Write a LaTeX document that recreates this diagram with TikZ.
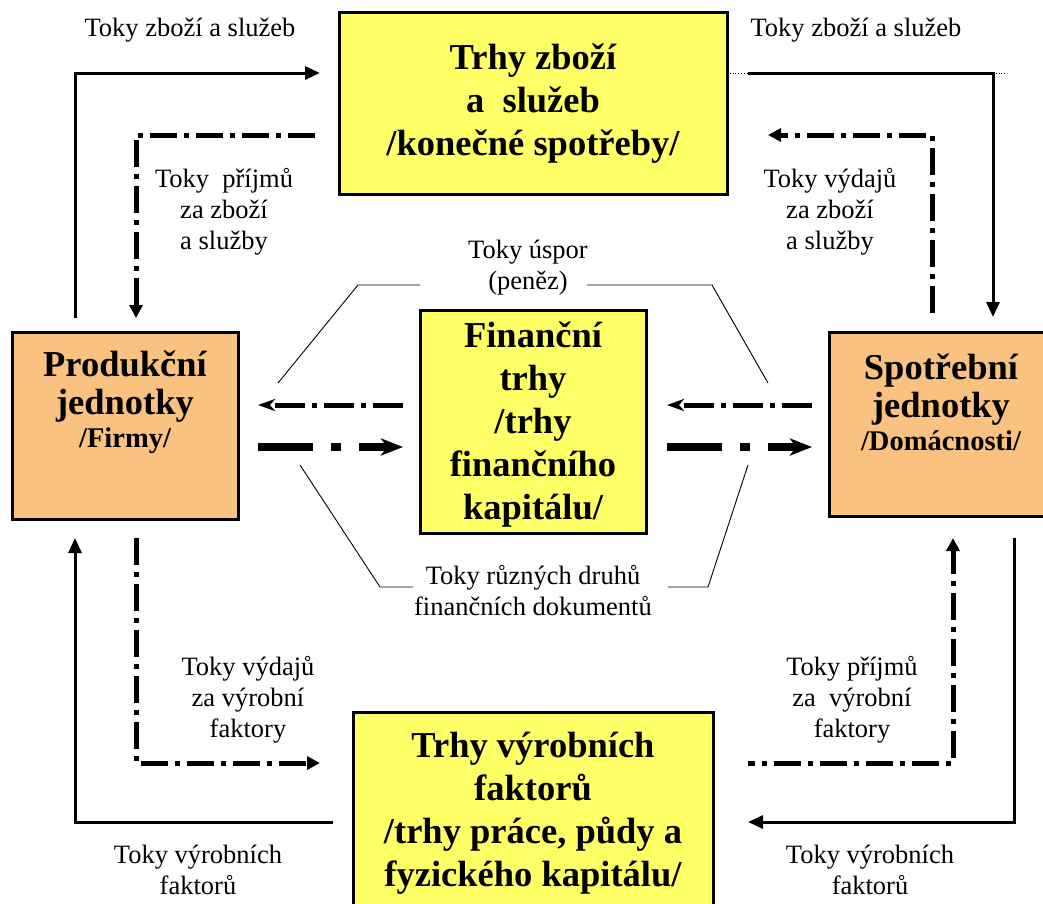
\documentclass[tikz,border=0pt]{standalone}
\usepackage{fontspec}
\setmainfont{Liberation Serif}
\usetikzlibrary{arrows.meta}
\definecolor{boxyellow}{RGB}{255,255,102}
\definecolor{boxorange}{RGB}{250,194,128}
\begin{document}
\begin{tikzpicture}[x=1pt,y=-1pt,
  mkt/.style={draw=black, line width=3pt, fill=boxyellow, inner sep=0pt},
  unitbox/.style={draw=black, line width=3pt, fill=boxorange, inner sep=0pt},
  boxtext/.style={align=center, font=\bfseries\fontsize{36.5}{43}\selectfont, inner sep=0pt},
  lbl/.style={align=center, font=\fontsize{26.5}{31}\selectfont, inner sep=0pt},
  solidflow/.style={line width=3pt, -{Triangle[length=15pt,width=13pt]}},
  ddflow/.style={line width=5pt, dash pattern=on 27pt off 7pt on 5pt off 7pt, -{Triangle[length=13pt,width=13pt]}},
  midthin/.style={line width=5pt, dash pattern=on 30pt off 7pt on 5pt off 7pt, -{Stealth[length=17pt,width=12pt,inset=5pt]}},
  midthick/.style={line width=8pt, dash pattern=on 55pt off 18pt on 10pt off 18pt, -{Stealth[length=22pt,width=17pt,inset=6pt]}},
  thinline/.style={line width=0.9pt},
  dotline/.style={line width=0.8pt, dotted}
]
\useasboundingbox (0,0) rectangle (1043,903);
\clip (0,0) rectangle (1043,903);
\fill[white] (0,0) rectangle (1043,903);

% boxes
\node[mkt, minimum width=388pt, minimum height=182pt] (top) at (533,103) {};
\node[unitbox, minimum width=226pt, minimum height=187pt] (prod) at (125,425.5) {};
\node[unitbox, minimum width=221pt, minimum height=184pt] (spot) at (939.5,424) {};
\node[mkt, minimum width=226pt, minimum height=223pt] (fin) at (533,421.5) {};
\node[mkt, minimum width=360pt, minimum height=208pt] (bot) at (533,816) {};

% box texts
\node[boxtext] (toptext) at (533,104) {Trhy zboží\\a~~služeb\\/konečné spotřeby/};
\node[boxtext, font=\bfseries\fontsize{36.5}{38}\selectfont] (prodtext) at (125,402)
  {Produkční\\jednotky\\[-5pt]{\fontsize{28.5}{30}\selectfont /Firmy/}};
\node[boxtext, font=\bfseries\fontsize{36.5}{38}\selectfont] (spottext) at (941,402)
  {Spotřební\\jednotky\\[-5pt]{\fontsize{28.5}{30}\selectfont /Domácnosti/}};
\node[boxtext] (fintext) at (533,425) {Finanční\\trhy\\/trhy\\finančního\\kapitálu/};
\node[boxtext] (bottext) at (533,813) {Trhy výrobních\\faktorů\\/trhy práce, půdy a\\fyzického kapitálu/};

% labels
\node[lbl] (l1) at (190,30) {Toky zboží a služeb};
\node[lbl] (l2) at (856,30) {Toky zboží a služeb};
\node[lbl] (l3) at (224,212) {Toky~~příjmů\\za zboží\\a služby};
\node[lbl] (l4) at (830,212) {Toky výdajů\\za zboží\\a služby};
\node[lbl] (l5) at (528,268) {Toky úspor\\(peněz)};
\node[lbl] (l6) at (533,591) {Toky různých druhů\\finančních dokumentů};
\node[lbl] (l7) at (248,700) {Toky výdajů\\za výrobní\\faktory};
\node[lbl] (l8) at (852,700) {Toky příjmů\\za~~výrobní\\faktory};
\node[lbl] (l9) at (198,870) {Toky výrobních\\faktorů};
\node[lbl] (l10) at (870,870) {Toky výrobních\\faktorů};

% coordinates of connector ends
\coordinate (a1s) at (75,318);   \coordinate (a1e) at (320,73);
\coordinate (a2s) at (315,135);  \coordinate (a2e) at (136,318);
\coordinate (a3s) at (748,73);   \coordinate (a3e) at (993,317);
\coordinate (a4s) at (932,313);  \coordinate (a4e) at (768,135);
\coordinate (a5s) at (403,405);  \coordinate (a5e) at (258,405);
\coordinate (a6s) at (258,447);  \coordinate (a6e) at (403,447);
\coordinate (a7s) at (812,405);  \coordinate (a7e) at (667,405);
\coordinate (a8s) at (667,447);  \coordinate (a8e) at (812,447);
\coordinate (a9s) at (333,822);  \coordinate (a9e) at (75,538);
\coordinate (a10s) at (136,538); \coordinate (a10e) at (320,763);
\coordinate (a11s) at (748,763); \coordinate (a11e) at (953,538);
\coordinate (a12s) at (1014,538);\coordinate (a12e) at (748,822);
\coordinate (d1s) at (727,73);   \coordinate (d2e) at (1007,73);
\coordinate (b1a) at (420,285); \coordinate (b1b) at (358,285); \coordinate (b1c) at (278,383);
\coordinate (b2a) at (587,285); \coordinate (b2b) at (712,285); \coordinate (b2c) at (768,383);
\coordinate (b3a) at (300,465); \coordinate (b3b) at (380,587); \coordinate (b3c) at (413,587);
\coordinate (b4a) at (668,587); \coordinate (b4b) at (708,587); \coordinate (b4c) at (748,465);
\coordinate (a3c) at (993,73);

% connectors
\draw[solidflow] (a1s) |- (a1e);
\draw[ddflow] (a2s) -| (a2e);
\draw[solidflow] (a3s) -| (a3e);
\draw[dotline] (d1s) -- (a3s);
\draw[dotline] (a3c) -- (d2e);
\draw[ddflow] (a4s) |- (a4e);

\draw[midthin] (a5s) -- (a5e);
\draw[midthick] (a6s) -- (a6e);
\draw[midthin] (a7s) -- (a7e);
\draw[midthick] (a8s) -- (a8e);

\draw[solidflow] (a9s) -| (a9e);
\draw[ddflow] (a10s) |- (a10e);
\draw[ddflow, dash phase=20pt] (a11s) -| (a11e);
\draw[solidflow] (a12s) |- (a12e);

\draw[thinline] (b1a) -- (b1b) -- (b1c);
\draw[thinline] (b2a) -- (b2b) -- (b2c);
\draw[thinline] (b3a) -- (b3b) -- (b3c);
\draw[thinline] (b4a) -- (b4b) -- (b4c);
\end{tikzpicture}
\end{document}
